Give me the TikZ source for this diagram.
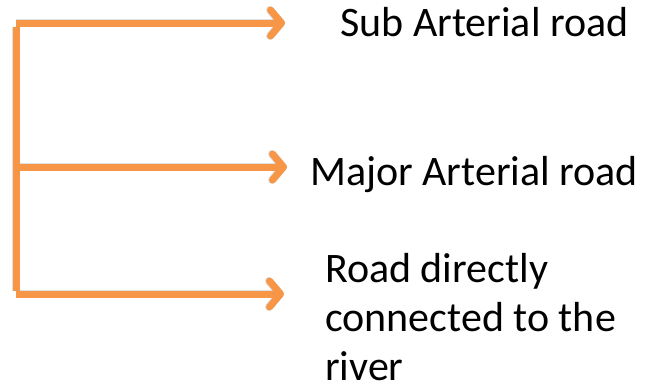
\documentclass[tikz,border=0pt]{standalone}
\usepackage{fontspec}
\setmainfont{Carlito}
\usetikzlibrary{arrows.meta}
\definecolor{accent}{HTML}{F79646}
\begin{document}
\begin{tikzpicture}[x=1pt,y=-1pt,
  conn/.style={draw=accent,line width=7pt},
  arr/.style={conn,-{Straight Barb[length=11pt,width=26pt,round]}},
  shadowline/.style={draw=black,opacity=0.12,line width=8pt},
  shadowarr/.style={shadowline,-{Straight Barb[length=11pt,width=26pt,round]}},
  lbl/.style={anchor=base west,inner sep=0pt,font=\fontsize{42}{49}\selectfont}]
\useasboundingbox[fill=white] (0,0) rectangle (649,389);
% corners and arrow ends
\coordinate (c1) at (16,23);
\coordinate (c2) at (16,167);
\coordinate (c3) at (16,294);
\coordinate (e1) at (285,23);
\coordinate (e2) at (287,167);
\coordinate (e3) at (284,294);
% shadows
\begin{scope}[shift={(2,4)}]
\draw[shadowline] ([yshift=-3.5]c1) -- ([yshift=3.5]c3);
\draw[shadowarr] (c1) -- (e1);
\draw[shadowarr] (c2) -- (e2);
\draw[shadowarr] (c3) -- (e3);
\end{scope}
% connectors
\draw[conn] ([yshift=-3.5]c1) -- ([yshift=3.5]c3);
\draw[arr] (c1) -- (e1);
\draw[arr] (c2) -- (e2);
\draw[arr] (c3) -- (e3);
% labels
\node[lbl] (sub) at (340,36) {Sub Arterial road};
\node[lbl] (major) at (310,185) {Major Arterial road};
\node[lbl,align=left,anchor=north west] (river) at (325,253) {Road directly\\connected to the\\river};
\end{tikzpicture}
\end{document}
